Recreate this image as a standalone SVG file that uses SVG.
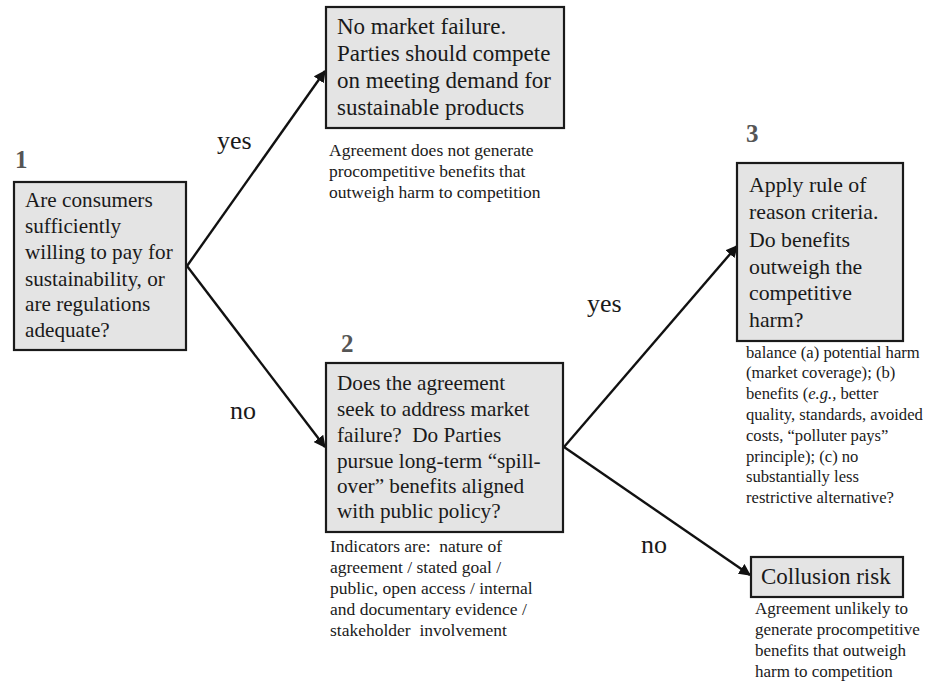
<svg xmlns="http://www.w3.org/2000/svg" width="930" height="684" viewBox="0 0 930 684">
<style>
.box{fill:#e4e4e4;stroke:#1a1a1a;stroke-width:2.2}
.t{font-family:"Liberation Serif","Times New Roman",serif;fill:#1a1a1a;white-space:pre}
.f21{font-size:21.2px}
.f23{font-size:23px}
.f22{font-size:21.8px}
.sm{font-size:17.5px}
.sm3{font-size:16.6px}
.sm4{font-size:17px}
.num{font-family:"Liberation Serif","Times New Roman",serif;font-size:25px;font-weight:bold;fill:#555}
.lab{font-family:"Liberation Serif","Times New Roman",serif;font-size:26px;fill:#1a1a1a}
.c{stroke:#111;stroke-width:2.4;fill:none;marker-end:url(#ah)}
</style>
<defs>
<marker id="ah" viewBox="0 0 10 10" refX="9" refY="5" markerWidth="5" markerHeight="5" orient="auto" markerUnits="strokeWidth">
<path d="M0,0 L10,5 L0,10 z" fill="#111"/>
</marker>
</defs>
<rect width="930" height="684" fill="#fff"/>
<g id="connectors">
<line class="c" x1="187" y1="266" x2="325" y2="71"/>
<line class="c" x1="187" y1="266" x2="325" y2="447"/>
<line class="c" x1="564" y1="447" x2="737" y2="246"/>
<line class="c" x1="564" y1="447" x2="750" y2="575"/>
<text class="lab" x="217" y="149">yes</text>
<text class="lab" x="230" y="419">no</text>
<text class="lab" x="587" y="312">yes</text>
<text class="lab" x="641" y="553">no</text>
</g>
<g id="node1">
<text class="num" x="15" y="168">1</text>
<rect class="box" x="14" y="182" width="172" height="168"/>
<text class="t f21"><tspan x="25" y="207">Are consumers</tspan><tspan x="25" y="233">sufficiently</tspan><tspan x="25" y="259">willing to pay for</tspan><tspan x="25" y="286">sustainability, or</tspan><tspan x="25" y="311">are regulations</tspan><tspan x="25" y="337">adequate?</tspan></text>
</g>
<g id="node-nomarket">
<rect class="box" x="326" y="7" width="238" height="121"/>
<text class="t f23"><tspan x="337" y="34">No market failure.</tspan><tspan x="337" y="61">Parties should compete</tspan><tspan x="337" y="88">on meeting demand for</tspan><tspan x="337" y="115">sustainable products</tspan></text>
<text class="t sm"><tspan x="329" y="156">Agreement does not generate</tspan><tspan x="329" y="177">procompetitive benefits that</tspan><tspan x="329" y="198">outweigh harm to competition</tspan></text>
</g>
<g id="node2">
<text class="num" x="341" y="352">2</text>
<rect class="box" x="326" y="363" width="237" height="169"/>
<text class="t f21" xml:space="preserve"><tspan x="337" y="390">Does the agreement</tspan><tspan x="337" y="416">seek to address market</tspan><tspan x="337" y="442">failure?  Do Parties</tspan><tspan x="337" y="468">pursue long-term “spill-</tspan><tspan x="337" y="493">over” benefits aligned</tspan><tspan x="337" y="518">with public policy?</tspan></text>
<text class="t sm" xml:space="preserve"><tspan x="330" y="552">Indicators are:  nature of</tspan><tspan x="330" y="573">agreement / stated goal /</tspan><tspan x="330" y="594">public, open access / internal</tspan><tspan x="330" y="615">and documentary evidence /</tspan><tspan x="330" y="636">stakeholder  involvement</tspan></text>
</g>
<g id="node3">
<text class="num" x="746" y="142">3</text>
<rect class="box" x="737" y="163" width="166" height="178"/>
<text class="t f22"><tspan x="749" y="192">Apply rule of</tspan><tspan x="749" y="219">reason criteria.</tspan><tspan x="749" y="247">Do benefits</tspan><tspan x="749" y="274">outweigh the</tspan><tspan x="749" y="300">competitive</tspan><tspan x="749" y="327">harm?</tspan></text>
<text class="t sm3"><tspan x="746" y="358">balance (a) potential harm</tspan><tspan x="746" y="378">(market coverage); (b)</tspan><tspan x="746" y="399">benefits (<tspan font-style="italic">e.g.,</tspan> better</tspan><tspan x="746" y="420">quality, standards, avoided</tspan><tspan x="746" y="441">costs, “polluter pays”</tspan><tspan x="746" y="462">principle); (c) no</tspan><tspan x="746" y="482">substantially less</tspan><tspan x="746" y="503">restrictive alternative?</tspan></text>
</g>
<g id="node-collusion">
<rect class="box" x="751" y="557" width="152" height="40"/>
<text class="t f23" x="761" y="584">Collusion risk</text>
<text class="t sm4"><tspan x="755" y="614">Agreement unlikely to</tspan><tspan x="755" y="635">generate procompetitive</tspan><tspan x="755" y="656">benefits that outweigh</tspan><tspan x="755" y="677">harm to competition</tspan></text>
</g>
</svg>
